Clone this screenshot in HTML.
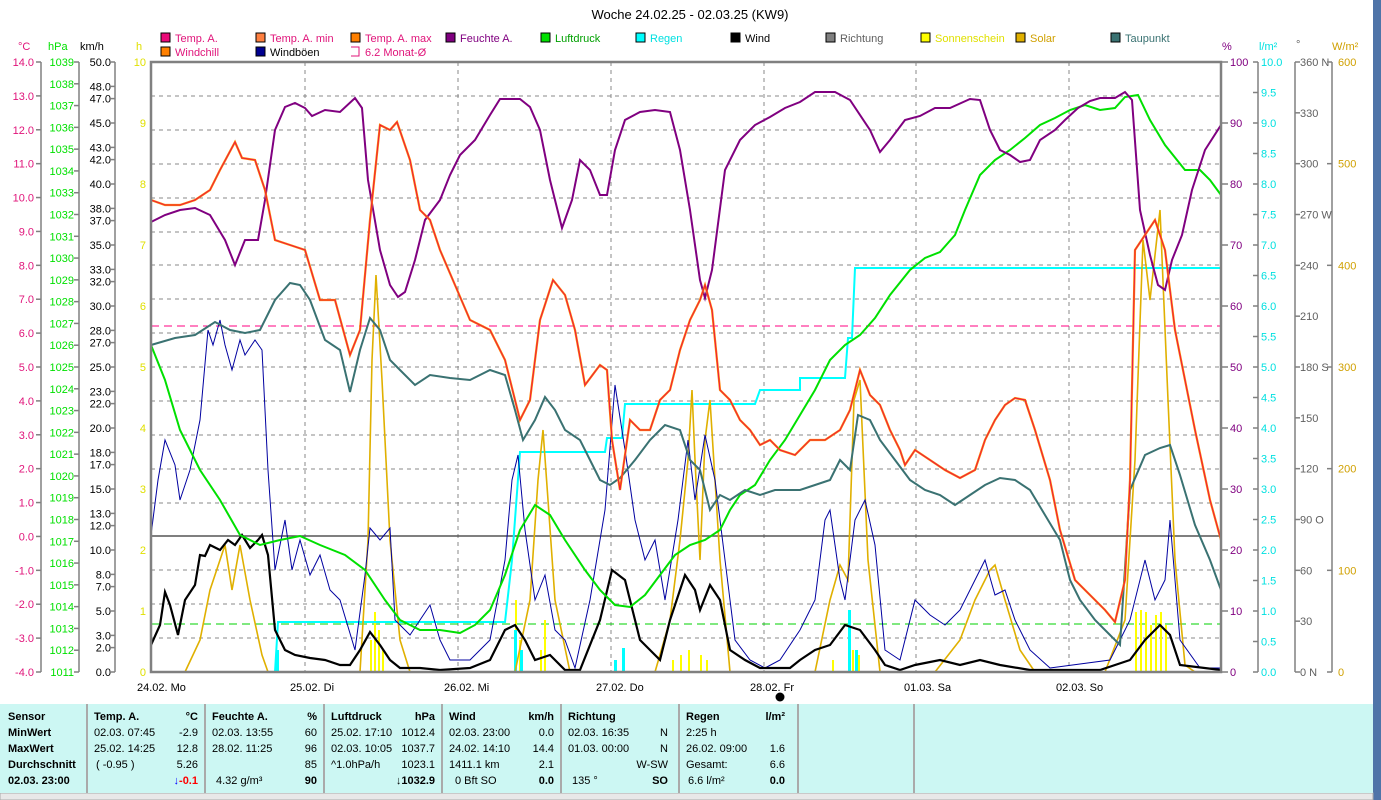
<!DOCTYPE html>
<html><head><meta charset="utf-8"><style>
body{margin:0;width:1381px;height:800px;background:#fff;overflow:hidden;font-family:"Liberation Sans",sans-serif;position:relative}
svg{position:absolute;left:0;top:0}
svg text{font-family:"Liberation Sans",sans-serif;font-size:11px}
.tb{position:absolute;top:704px;height:89px;background:#ccf7f3;border-right:2px solid #aaa;font-size:11px;box-sizing:border-box}
.tb div{position:absolute;white-space:nowrap}
</style></head><body>
<svg width="1381" height="800" viewBox="0 0 1381 800">
<rect x="1373" y="0" width="8" height="800" fill="#4f74a8"/>
<text x="690" y="19" text-anchor="middle" style="font-size:13px">Woche 24.02.25 - 02.03.25 (KW9)</text>
<g font-size="11">
<rect x="161" y="33" width="9" height="9" fill="#ea0a78" stroke="#000"/><text x="175" y="42" fill="#e0147a">Temp. A.</text>
<rect x="256" y="33" width="9" height="9" fill="#ff8040" stroke="#000"/><text x="270" y="42" fill="#e0147a">Temp. A. min</text>
<rect x="351" y="33" width="9" height="9" fill="#ff8000" stroke="#000"/><text x="365" y="42" fill="#e0147a">Temp. A. max</text>
<rect x="446" y="33" width="9" height="9" fill="#800080" stroke="#000"/><text x="460" y="42" fill="#800080">Feuchte A.</text>
<rect x="541" y="33" width="9" height="9" fill="#00e000" stroke="#000"/><text x="555" y="42" fill="#00a000">Luftdruck</text>
<rect x="636" y="33" width="9" height="9" fill="#00ffff" stroke="#000"/><text x="650" y="42" fill="#00e0e0">Regen</text>
<rect x="731" y="33" width="9" height="9" fill="#000" stroke="#000"/><text x="745" y="42" fill="#000">Wind</text>
<rect x="826" y="33" width="9" height="9" fill="#808080" stroke="#000"/><text x="840" y="42" fill="#606060">Richtung</text>
<rect x="921" y="33" width="9" height="9" fill="#ffff00" stroke="#000"/><text x="935" y="42" fill="#e0e000">Sonnenschein</text>
<rect x="1016" y="33" width="9" height="9" fill="#e0b000" stroke="#000"/><text x="1030" y="42" fill="#d0a000">Solar</text>
<rect x="1111" y="33" width="9" height="9" fill="#3a7272" stroke="#000"/><text x="1125" y="42" fill="#3a7272">Taupunkt</text>
<rect x="161" y="47" width="9" height="9" fill="#ff8000" stroke="#000"/><text x="175" y="56" fill="#e0147a">Windchill</text>
<rect x="256" y="47" width="9" height="9" fill="#000090" stroke="#000"/><text x="270" y="56" fill="#000">Windböen</text>
<path d="M351 47h8v9h-8" fill="none" stroke="#e0147a"/><text x="365" y="56" fill="#e0147a">6.2 Monat-Ø</text>
</g>
<text x="18" y="50" fill="#e0147a">°C</text><text x="48" y="50" fill="#00e000">hPa</text><text x="80" y="50" fill="#000">km/h</text><text x="136" y="50" fill="#e0e000">h</text>
<text x="1222" y="50" fill="#800080">%</text><text x="1259" y="50" fill="#00e0e0">l/m²</text><text x="1296" y="48" fill="#606060">°</text><text x="1332" y="50" fill="#d0a000">W/m²</text>
<g stroke="#808080" stroke-width="1.5"><line x1="41" y1="62" x2="41" y2="672"/><line x1="79" y1="62" x2="79" y2="672"/><line x1="115" y1="62" x2="115" y2="672"/>
<line x1="1258" y1="62" x2="1258" y2="672"/><line x1="1295" y1="62" x2="1295" y2="672"/><line x1="1332" y1="62" x2="1332" y2="672"/></g>
<g id="ticks" font-size="11"></g>
<g stroke="#888" stroke-dasharray="4,4" stroke-width="1">
<line x1="151" y1="96" x2="1221" y2="96"/><line x1="151" y1="130" x2="1221" y2="130"/><line x1="151" y1="164" x2="1221" y2="164"/><line x1="151" y1="198" x2="1221" y2="198"/><line x1="151" y1="232" x2="1221" y2="232"/><line x1="151" y1="265" x2="1221" y2="265"/><line x1="151" y1="299" x2="1221" y2="299"/><line x1="151" y1="333" x2="1221" y2="333"/><line x1="151" y1="367" x2="1221" y2="367"/><line x1="151" y1="401" x2="1221" y2="401"/><line x1="151" y1="435" x2="1221" y2="435"/><line x1="151" y1="469" x2="1221" y2="469"/><line x1="151" y1="503" x2="1221" y2="503"/><line x1="151" y1="570" x2="1221" y2="570"/><line x1="151" y1="604" x2="1221" y2="604"/><line x1="151" y1="638" x2="1221" y2="638"/>
<line x1="305" y1="62" x2="305" y2="672"/><line x1="458" y1="62" x2="458" y2="672"/><line x1="611" y1="62" x2="611" y2="672"/><line x1="764" y1="62" x2="764" y2="672"/><line x1="916" y1="62" x2="916" y2="672"/><line x1="1069" y1="62" x2="1069" y2="672"/>
</g>
<line x1="151" y1="536" x2="1221" y2="536" stroke="#555" stroke-width="1.5"/>
<line x1="151" y1="326" x2="1221" y2="326" stroke="#ff0080" stroke-dasharray="8,5"/>
<line x1="151" y1="624" x2="1221" y2="624" stroke="#00d000" stroke-dasharray="8,5"/>
<g fill="#ffff00">
<rect x="370" y="640" width="2" height="32"/><rect x="374" y="612" width="2" height="60"/><rect x="378" y="630" width="2" height="42"/><rect x="382" y="650" width="2" height="22"/>
<rect x="515" y="600" width="2" height="72"/><rect x="519" y="640" width="2" height="32"/><rect x="540" y="650" width="2" height="22"/><rect x="544" y="620" width="2" height="52"/>
<rect x="672" y="660" width="2" height="12"/><rect x="680" y="655" width="2" height="17"/><rect x="688" y="650" width="2" height="22"/><rect x="700" y="655" width="2" height="17"/><rect x="706" y="660" width="2" height="12"/>
<rect x="832" y="660" width="2" height="12"/><rect x="852" y="650" width="2" height="22"/><rect x="858" y="655" width="2" height="17"/>
<rect x="1135" y="612" width="2" height="60"/><rect x="1140" y="610" width="2" height="62"/><rect x="1145" y="612" width="2" height="60"/><rect x="1150" y="625" width="2" height="47"/><rect x="1155" y="615" width="2" height="57"/><rect x="1160" y="612" width="2" height="60"/><rect x="1165" y="625" width="2" height="47"/>
</g>
<g fill="#00ffff"><rect x="276" y="650" width="3" height="22"/><rect x="514" y="630" width="3" height="42"/><rect x="520" y="650" width="3" height="22"/><rect x="614" y="660" width="3" height="12"/><rect x="622" y="648" width="3" height="24"/><rect x="848" y="610" width="3" height="62"/><rect x="855" y="650" width="3" height="22"/></g>
<polyline fill="none" stroke="#00ffff" stroke-width="2" points="151,672 275,672 278,622 505,622 512,560 520,452 605,452 607,438 622,438 625,404 755,404 760,390 800,390 800,378 845,378 848,338 852,338 855,268 1221,268"/>
<g fill="none" stroke="#e0b000" stroke-width="1.6">
<polyline points="185,672 200,640 210,590 215,575 225,545 232,590 240,545 250,600 262,655 268,672"/>
<polyline points="360,672 368,540 372,360 376,275 382,380 390,540 400,640 410,672"/>
<polyline points="515,672 530,600 538,480 543,430 548,500 555,600 570,672"/>
<polyline points="655,672 670,620 680,540 688,460 692,390 695,460 700,560 705,440 710,400 720,560 730,672"/>
<polyline points="815,672 830,600 840,565 848,580 854,400 860,380 868,560 880,672"/>
<polyline points="935,672 960,640 975,600 990,570 995,565 1005,600 1020,650 1035,672"/>
<polyline points="1105,672 1125,620 1135,460 1143,240 1150,300 1160,210 1168,400 1175,560 1185,665 1195,672"/>
</g>
<polyline fill="none" stroke="#0000a0" stroke-width="1" points="151,535 158,480 165,440 175,465 180,500 190,470 200,420 208,330 213,345 220,320 225,345 232,370 240,340 245,355 255,340 262,350 268,470 275,570 285,520 292,570 300,540 310,575 320,555 330,590 340,600 355,650 365,575 370,528 380,540 390,528 395,620 410,635 420,620 430,605 440,640 450,660 470,660 490,640 505,560 512,480 518,455 525,530 535,600 545,575 555,630 565,640 575,668 590,600 605,510 615,385 625,450 635,520 645,560 655,540 665,600 678,520 688,440 695,500 705,435 715,480 725,560 735,640 750,660 765,668 780,660 800,630 815,600 825,520 830,510 840,580 845,600 855,520 865,500 875,545 885,650 900,660 915,600 930,615 945,625 960,610 975,580 985,560 995,595 1005,590 1015,620 1030,650 1050,668 1110,660 1130,620 1145,560 1155,600 1165,580 1170,520 1180,640 1200,668 1221,668"/>
<polyline fill="none" stroke="#000" stroke-width="2.2" points="151,645 160,625 165,592 170,605 178,635 185,600 195,585 200,555 205,556 210,545 220,550 228,540 235,545 242,535 250,548 258,540 262,535 268,555 275,630 285,650 295,655 310,658 325,660 340,665 350,665 360,650 370,632 380,645 390,660 400,668 420,668 440,670 470,668 490,660 505,630 515,625 525,640 535,660 550,655 565,670 580,670 600,620 612,570 625,580 630,600 640,640 650,650 660,660 670,620 685,575 695,590 700,610 710,585 720,600 730,650 745,660 760,668 790,668 800,660 815,650 830,645 845,625 860,630 875,650 885,665 900,670 915,665 940,660 960,665 980,660 1000,665 1030,670 1100,670 1130,660 1145,640 1160,625 1170,635 1180,665 1221,670"/>
<polyline fill="none" stroke="#00e000" stroke-width="2" points="151,345 165,380 180,430 200,470 220,500 240,535 260,545 280,540 300,536 320,545 345,555 365,570 385,600 400,620 420,630 440,630 460,633 475,625 490,610 505,575 520,530 535,505 550,515 565,540 585,570 600,590 615,605 630,607 645,595 660,575 675,555 690,545 705,540 720,530 730,510 740,495 755,485 770,460 785,440 800,415 815,390 830,360 845,345 860,335 875,318 890,295 910,270 925,258 940,252 955,235 965,210 980,175 995,160 1010,150 1025,138 1040,125 1055,118 1070,110 1085,105 1100,110 1115,108 1125,97 1138,95 1150,120 1165,145 1185,170 1200,170 1210,180 1221,195"/>
<polyline fill="none" stroke="#3a7272" stroke-width="2" points="151,345 175,338 195,335 215,322 230,330 245,333 260,330 275,300 290,283 300,285 310,300 325,340 340,350 350,392 360,350 370,318 380,330 390,360 400,370 415,385 430,375 450,378 470,380 490,370 505,375 515,410 523,440 535,420 545,397 555,410 565,430 580,440 590,460 600,480 610,485 620,478 635,460 650,440 665,425 680,430 690,460 700,470 710,510 720,495 730,500 745,490 760,495 775,490 800,490 815,485 830,480 840,460 850,470 858,415 870,420 880,440 895,460 910,480 925,490 940,495 955,505 970,495 985,485 1000,478 1015,480 1030,490 1045,515 1060,540 1070,580 1080,600 1095,620 1110,635 1120,645 1130,490 1145,455 1160,448 1170,445 1180,475 1195,525 1210,560 1221,590"/>
<polyline fill="none" stroke="#800080" stroke-width="2" points="151,222 165,215 180,210 195,208 210,215 225,240 235,265 245,240 258,240 265,200 275,130 285,107 295,103 305,108 312,116 325,110 340,112 355,98 362,108 368,180 380,250 390,285 398,297 405,292 415,260 425,220 440,200 450,175 460,155 475,140 490,115 500,99 520,99 530,107 540,130 550,180 562,228 572,200 580,160 590,170 600,195 607,195 615,150 625,120 640,112 655,110 670,112 680,150 690,210 700,280 705,298 712,270 725,170 740,140 755,125 770,117 785,108 800,102 815,92 835,92 850,100 870,130 880,152 890,140 905,120 920,116 935,108 950,108 970,99 980,100 990,130 1000,150 1010,155 1020,162 1030,160 1040,140 1055,130 1065,120 1078,108 1090,101 1100,98 1115,98 1125,92 1132,100 1140,210 1150,255 1158,285 1165,290 1172,260 1182,235 1192,190 1205,150 1221,125"/>
<polyline fill="none" stroke="#ff8000" stroke-width="2.2" points="151,200 165,205 180,205 195,200 210,190 220,170 235,142 242,158 255,160 265,190 275,240 290,245 305,250 320,300 335,300 350,355 360,330 370,220 380,125 390,130 397,122 410,160 420,210 430,220 440,250 455,285 470,320 490,330 505,360 520,420 530,400 540,320 553,280 565,295 575,330 585,385 600,365 607,370 612,440 620,490 630,420 640,430 650,430 660,400 670,390 680,350 690,320 700,300 705,285 712,310 720,390 730,400 740,420 750,430 760,445 770,440 780,450 795,455 810,440 825,440 840,430 850,410 860,370 870,395 880,405 890,430 900,450 905,465 915,450 930,460 945,470 960,478 975,470 985,440 995,420 1005,405 1015,398 1025,400 1035,430 1050,480 1060,530 1075,580 1090,595 1105,610 1115,622 1125,580 1130,480 1135,250 1145,235 1155,220 1165,250 1175,330 1185,380 1195,430 1210,500 1221,540"/>
<polyline fill="none" stroke="#ea0a50" stroke-width="0.8" points="151,200 165,205 180,205 195,200 210,190 220,170 235,142 242,158 255,160 265,190 275,240 290,245 305,250 320,300 335,300 350,355 360,330 370,220 380,125 390,130 397,122 410,160 420,210 430,220 440,250 455,285 470,320 490,330 505,360 520,420 530,400 540,320 553,280 565,295 575,330 585,385 600,365 607,370 612,440 620,490 630,420 640,430 650,430 660,400 670,390 680,350 690,320 700,300 705,285 712,310 720,390 730,400 740,420 750,430 760,445 770,440 780,450 795,455 810,440 825,440 840,430 850,410 860,370 870,395 880,405 890,430 900,450 905,465 915,450 930,460 945,470 960,478 975,470 985,440 995,420 1005,405 1015,398 1025,400 1035,430 1050,480 1060,530 1075,580 1090,595 1105,610 1115,622 1125,580 1130,480 1135,250 1145,235 1155,220 1165,250 1175,330 1185,380 1195,430 1210,500 1221,540"/>
<rect x="151" y="62" width="1070" height="610" fill="none" stroke="#808080" stroke-width="2.5"/>
<g font-size="11"><text x="137" y="691">24.02. Mo</text><text x="290" y="691">25.02. Di</text><text x="444" y="691">26.02. Mi</text><text x="596" y="691">27.02. Do</text><text x="750" y="691">28.02. Fr</text><text x="904" y="691">01.03. Sa</text><text x="1056" y="691">02.03. So</text></g>
<circle cx="780" cy="697" r="4.5" fill="#000"/>
<rect x="0" y="793" width="1373" height="7" fill="#e8e8e8" stroke="#aaa"/>
</svg>
<div class="tb" style="left:0;width:88px"><div style="left:8px;top:7px;font-weight:bold">Sensor</div><div style="left:8px;top:23px;font-weight:bold">MinWert</div><div style="left:8px;top:39px;font-weight:bold">MaxWert</div><div style="left:8px;top:55px;font-weight:bold">Durchschnitt</div><div style="left:8px;top:71px;font-weight:bold">02.03. 23:00</div></div>
<div class="tb" style="left:88px;width:118px"><div style="left:6px;top:7px;font-weight:bold">Temp. A.</div><div style="right:6px;top:7px;font-weight:bold">°C</div><div style="left:6px;top:23px">02.03. 07:45</div><div style="right:6px;top:23px">-2.9</div><div style="left:6px;top:39px">25.02. 14:25</div><div style="right:6px;top:39px">12.8</div><div style="left:8px;top:55px">( -0.95 )</div><div style="right:6px;top:55px">5.26</div><div style="right:6px;top:71px;font-weight:bold;color:#f00"><span style="color:#00f">↓</span>-0.1</div></div>
<div class="tb" style="left:206px;width:119px"><div style="left:6px;top:7px;font-weight:bold">Feuchte A.</div><div style="right:6px;top:7px;font-weight:bold">%</div><div style="left:6px;top:23px">02.03. 13:55</div><div style="right:6px;top:23px">60</div><div style="left:6px;top:39px">28.02. 11:25</div><div style="right:6px;top:39px">96</div><div style="right:6px;top:55px">85</div><div style="left:10px;top:71px">4.32 g/m³</div><div style="right:6px;top:71px;font-weight:bold">90</div></div>
<div class="tb" style="left:325px;width:118px"><div style="left:6px;top:7px;font-weight:bold">Luftdruck</div><div style="right:6px;top:7px;font-weight:bold">hPa</div><div style="left:6px;top:23px">25.02. 17:10</div><div style="right:6px;top:23px">1012.4</div><div style="left:6px;top:39px">02.03. 10:05</div><div style="right:6px;top:39px">1037.7</div><div style="left:6px;top:55px">^1.0hPa/h</div><div style="right:6px;top:55px">1023.1</div><div style="right:6px;top:71px;font-weight:bold">↓1032.9</div></div>
<div class="tb" style="left:443px;width:119px"><div style="left:6px;top:7px;font-weight:bold">Wind</div><div style="right:6px;top:7px;font-weight:bold">km/h</div><div style="left:6px;top:23px">02.03. 23:00</div><div style="right:6px;top:23px">0.0</div><div style="left:6px;top:39px">24.02. 14:10</div><div style="right:6px;top:39px">14.4</div><div style="left:6px;top:55px">1411.1 km</div><div style="right:6px;top:55px">2.1</div><div style="left:12px;top:71px">0 Bft SO</div><div style="right:6px;top:71px;font-weight:bold">0.0</div></div>
<div class="tb" style="left:562px;width:118px"><div style="left:6px;top:7px;font-weight:bold">Richtung</div><div style="left:6px;top:23px">02.03. 16:35</div><div style="right:10px;top:23px">N</div><div style="left:6px;top:39px">01.03. 00:00</div><div style="right:10px;top:39px">N</div><div style="right:10px;top:55px">W-SW</div><div style="left:10px;top:71px">135 °</div><div style="right:10px;top:71px;font-weight:bold">SO</div></div>
<div class="tb" style="left:680px;width:119px"><div style="left:6px;top:7px;font-weight:bold">Regen</div><div style="right:12px;top:7px;font-weight:bold">l/m²</div><div style="left:6px;top:23px">2:25 h</div><div style="left:6px;top:39px">26.02. 09:00</div><div style="right:12px;top:39px">1.6</div><div style="left:6px;top:55px">Gesamt:</div><div style="right:12px;top:55px">6.6</div><div style="left:8px;top:71px">6.6 l/m²</div><div style="right:12px;top:71px;font-weight:bold">0.0</div></div>
<div class="tb" style="left:799px;width:116px"></div>
<div class="tb" style="left:915px;width:458px;border-right:none"></div>
<script>
(function(){
var g=document.getElementById('ticks'),s='';
function t(x,y,txt,col,anchor){s+='<text x="'+x+'" y="'+(y+4)+'" fill="'+col+'" text-anchor="'+anchor+'">'+txt+'</text>';}
function tk(x1,x2,y){s+='<line x1="'+x1+'" y1="'+y+'" x2="'+x2+'" y2="'+y+'" stroke="#808080" stroke-width="1.5"/>';}
for(var i=0;i<=18;i++){var v=14-i,y=62+i*610/18;t(34,y,v.toFixed(1),'#e0147a','end');tk(36,41,y);}
for(var i=0;i<=28;i++){var y=62+i*610/28;t(74,y,1039-i,'#00e000','end');tk(74,79,y);}
[50,48,47,45,43,42,40,38,37,35,33,32,30,28,27,25,23,22,20,18,17,15,13,12,10,8,7,5,3,2,0].forEach(function(v){var y=672-v*12.2;t(111,y,v.toFixed(1),'#000','end');tk(111,115,y);});
for(var i=0;i<=10;i++){var y=62+i*61;t(146,y,10-i,'#e0e000','end');}
for(var i=0;i<=10;i++){var y=62+i*61;tk(1221,1228,y);t(1230,y,100-i*10,'#800080','start');}
for(var i=0;i<=20;i++){var y=62+i*30.5;tk(1253,1258,y);t(1261,y,(10-i*0.5).toFixed(1),'#00e0e0','start');}
var d=['360 N','330','300','270 W','240','210','180 S','150','120','90 O','60','30','0 N'];
for(var i=0;i<=12;i++){var y=62+i*610/12;tk(1295,1300,y);t(1300,y,d[i],'#606060','start');}
for(var i=0;i<=6;i++){var y=62+i*610/6;tk(1327,1332,y);t(1338,y,600-i*100,'#d0a000','start');}
g.innerHTML=s;
})();
</script>
</body></html>
